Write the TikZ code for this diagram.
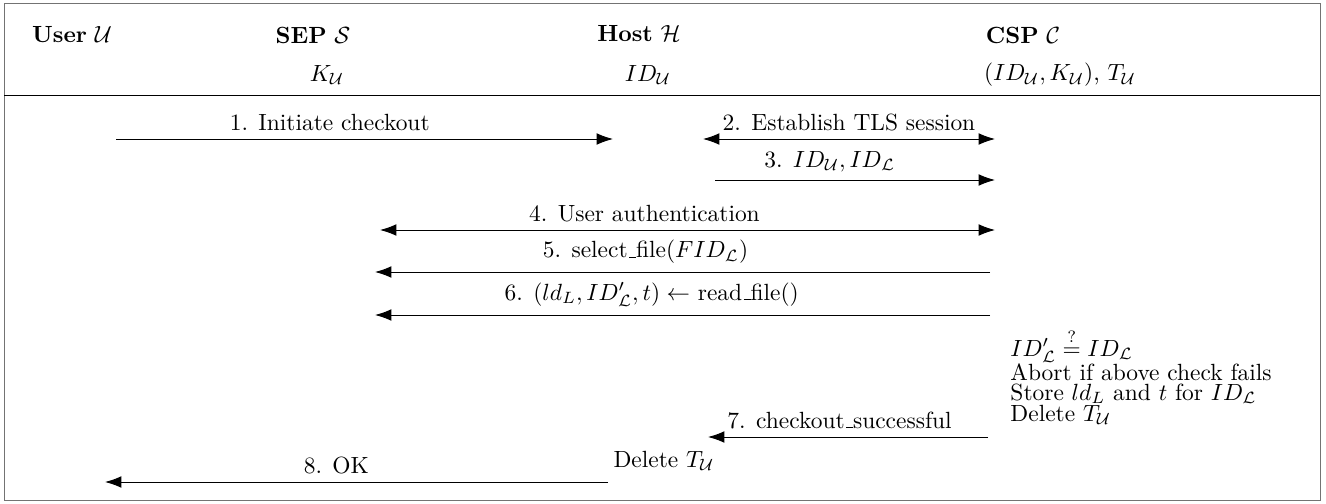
\documentclass[tikz,border=0pt]{standalone}
\usetikzlibrary{arrows.meta}
\newcommand\usc{\leavevmode\kern.06em\vbox{\hrule width.3em}}
\tikzset{
  msg/.style={-{Latex[length=7pt,width=5pt]}},
  dmsg/.style={{Latex[length=7pt,width=5pt]}-{Latex[length=7pt,width=5pt]}},
  note/.style={anchor=base west, inner sep=0pt},
}
\begin{document}
\begin{tikzpicture}[x=0.015cm, y=-0.015cm]
			%%%%% FRAME %%%%%
			\useasboundingbox (0,0) rectangle (1326,504);
			\draw[black!55] (4,3) rectangle (1320,500);
			\draw (4,95) -- (1320,95);
			
			%%%%% PARTIES %%%%%
			\node (user) at (72,35) {\textbf{User} $\mathcal{U}$};
			\node (sep) at (313,35) {\textbf{SEP} $\mathcal{S}$};
			\node (host) at (639,34) {\textbf{Host} $\mathcal{H}$};
			\node (csp) at (1023,35) {\textbf{CSP} $\mathcal{C}$};
			
			\node (sepkey) at (327,75) {$K_{\mathcal{U}}$};
			\node (hostid) at (648,75) {$ID_{\mathcal{U}}$};
			\node (cspdb) at (1060,75) {$(ID_{\mathcal{U}}, K_{\mathcal{U}})$, $T_{\mathcal{U}}$};
			
			%%%%% MESSAGES %%%%%
			\coordinate (m1s) at (116,139);
			\coordinate (m1e) at (613,139);
			\coordinate (m2s) at (703,139);
			\coordinate (m2e) at (995,139);
			\coordinate (m3s) at (715,180);
			\coordinate (m3e) at (995,180);
			\coordinate (m4s) at (380,230);
			\coordinate (m4e) at (995,230);
			\coordinate (m5s) at (990,272);
			\coordinate (m5e) at (375,272);
			\coordinate (m6s) at (990,315);
			\coordinate (m6e) at (375,315);
			\coordinate (m7s) at (988,437);
			\coordinate (m7e) at (708,437);
			\coordinate (m8s) at (608,482);
			\coordinate (m8e) at (105,482);
			
			\draw[msg] (m1s) -- node[above, pos=0.43] (l1) {1. Initiate checkout} (m1e);
			\draw[dmsg] (m2s) -- node[above] (l2) {2. Establish TLS session} (m2e);
			\draw[msg] (m3s) -- node[above, pos=0.41] (l3) {3. $ID_{\mathcal{U}}, ID_{\mathcal{L}}$} (m3e);
			\draw[dmsg] (m4s) -- node[above, pos=0.43] (l4) {4. User authentication} (m4e);
			\draw[msg] (m5s) -- node[above, pos=0.56] (l5) {5. select\usc file($FID_{\mathcal{L}}$)} (m5e);
			\draw[msg] (m6s) -- node[above, pos=0.55] (l6) {6. $(ld_L, ID'_{\mathcal{L}}, t) \leftarrow$ read\usc file()} (m6e);
			\draw[msg] (m7s) -- node[above, pos=0.53] (l7) {7. checkout\usc successful} (m7e);
			\draw[msg] (m8s) -- node[above, pos=0.54] (l8) {8. OK} (m8e);
			
			%%%%% LOCAL STEPS %%%%%
			\node[note] (chk1) at (1010,356) {$ID'_{\mathcal{L}} \stackrel{?}{=} ID_{\mathcal{L}}$};
			\node[note] (chk2) at (1010,380) {Abort if above check fails};
			\node[note] (chk3) at (1010,400) {Store $ld_L$ and $t$ for $ID_{\mathcal{L}}$};
			\node[note] (chk4) at (1010,421) {Delete $T_{\mathcal{U}}$};
			
			\node (hostdel) at (664,461) {Delete $T_{\mathcal{U}}$};
\end{tikzpicture}
\end{document}
